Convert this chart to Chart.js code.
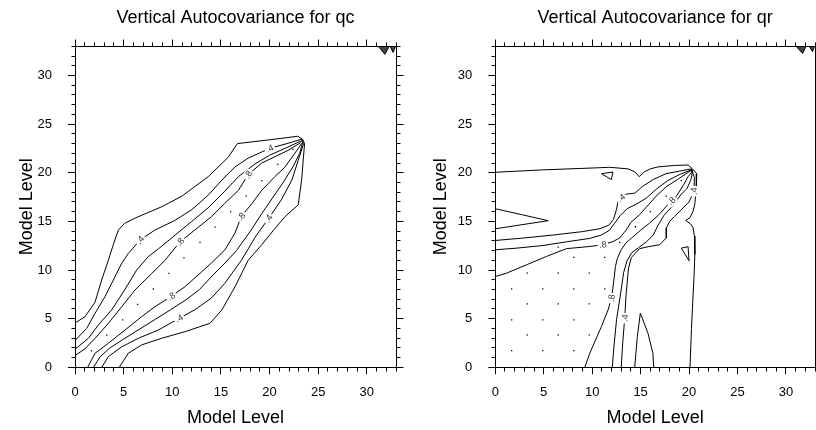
<!DOCTYPE html>
<html>
<head>
<meta charset="utf-8">
<script src="https://cdn.jsdelivr.net/npm/chart.js@4.4.1/dist/chart.umd.min.js"></script>
<style>
  html, body { margin: 0; padding: 0; background: #fff; }
  #wrap { position: relative; width: 816px; height: 430px; overflow: hidden; }
  canvas { position: absolute; top: 0; }
</style>
</head>
<body>
<div id="wrap">
  <canvas id="qcChart" width="408" height="430" style="left:0"></canvas>
  <canvas id="qrChart" width="408" height="430" style="left:408px"></canvas>
</div>
<script>
const FONT = '"Liberation Sans", Arial, Helvetica, sans-serif';
const AXIS_MAX = 33;
const MAJOR_STEP = 5;

// ---- qc panel: contour lines (model level x, model level y) ----
const qcLine02 = [[0,4.55],[1.03,5.2],[2.06,6.7],[2.74,8.97],[3.43,11.0],[3.9,12.5],[4.45,14.1],[5.1,14.8],[6.2,15.35],[8.9,16.5],[11.0,17.6],[13.7,19.6],[15.75,21.6],[16.7,23.0],[19.7,23.35],[22.9,23.75],[23.4,23.45],[23.6,23.0],[23.3,19.3],[22.95,16.7],[21.6,15.5],[20.5,14.2],[19.2,12.6],[17.8,11.0],[16.45,8.28],[15.1,5.9],[13.87,4.52],[11.3,3.66],[8.9,2.98],[6.85,2.3],[5.48,1.44],[4.55,0]];
const qcLine04 = [[0,2.75],[1.2,4.0],[2.06,5.55],[3.08,7.26],[3.94,8.97],[4.8,10.7],[5.48,11.7],[6.7,13.1],[8.2,14.1],[10.27,15.1],[12.0,16.2],[13.7,17.7],[15.1,19.25],[16.45,20.6],[17.8,21.5],[20.0,22.5],[21.8,23.0],[23.3,23.45],[23.5,23.0],[22.95,21.3],[22.3,19.25],[21.2,17.2],[19.9,15.3],[18.6,13.5],[17.1,11.0],[15.4,8.63],[14.0,7.1],[12.3,5.9],[10.7,5.03],[8.56,3.83],[6.5,2.98],[4.8,2.1],[3.43,1.1],[2.75,0]];
const qcLine06 = [[0,1.85],[1.37,2.98],[2.4,4.35],[3.77,5.9],[5.1,7.95],[6.34,10.0],[7.53,11.37],[8.6,12.2],[10.3,13.6],[12.0,15.0],[13.7,16.4],[15.4,18.1],[16.8,19.6],[18.5,20.9],[20.0,21.8],[21.8,22.6],[23.3,23.3],[23.4,23.1],[23.1,22.0],[22.4,20.6],[21.4,19.0],[20.3,17.4],[19.2,15.8],[18.1,14.1],[16.6,12.0],[15.5,10.8],[14.2,9.5],[12.8,8.0],[11.5,7.0],[9.8,5.9],[8.2,4.9],[6.6,3.9],[5.0,2.9],[3.6,2.0],[2.6,1.1],[1.9,0]];
const qcLine08 = [[0,1.2],[1.03,1.9],[2.06,2.98],[3.43,4.52],[4.8,6.23],[6.17,7.95],[7.9,9.66],[9.25,11.0],[10.8,12.9],[12.3,14.1],[14.05,15.5],[15.4,16.85],[16.8,18.2],[17.8,19.8],[19.2,21.0],[20.55,21.65],[21.9,22.3],[23.2,23.1],[23.3,23.0],[22.6,22.0],[21.6,20.6],[20.55,19.6],[19.2,18.2],[18.2,16.85],[17.1,15.5],[16.45,13.8],[15.4,12.06],[14.0,10.7],[13.0,9.8],[11.3,8.28],[9.9,7.3],[8.22,6.23],[6.85,5.2],[5.14,3.83],[3.43,2.47],[2.06,1.44],[1.3,0]];
const qcDots = [[0,0],[1.7,1.7],[3.26,3.3],[4.9,4.88],[6.44,6.47],[8.05,8.05],[9.66,9.66],[11.2,11.26],[12.85,12.85],[14.4,14.4],[16.0,16.0],[17.6,17.6],[19.2,19.2],[20.85,20.85],[22.4,22.4]];
const qcCorner = [[[31.17,33],[32.3,33],[31.86,32.17],[31.17,33]], [[32.4,33],[32.95,33],[32.7,32.37],[32.4,33]]];
const qcLabels = [
  { text: '.4', line: 1, at: [6.7, 13.1] },
  { text: '.8', line: 3, at: [10.8, 12.9] },
  { text: '.4', line: 1, at: [20.0, 22.5] },
  { text: '.8', line: 3, at: [17.8, 19.8] },
  { text: '.8', line: 3, at: [9.9, 7.3] },
  { text: '.4', line: 1, at: [10.7, 5.03] },
  { text: '.8', line: 3, at: [17.1, 15.5] },
  { text: '.4', line: 1, at: [19.9, 15.3] }
];

// ---- qr panel ----
const qrOuter = [[0,20.05],[5,20.3],[10.3,20.5],[11.8,20.56],[13.7,20.4],[14.4,20.1],[14.85,19.6],[15.4,20.1],[16.0,20.4],[16.8,20.6],[18.5,20.75],[19.9,20.8],[20.3,20.45],[20.8,19.9],[20.75,18.5],[20.6,16.8],[20.4,16.0],[20.1,15.4],[19.65,15.1],[20.1,14.8],[20.4,14.4],[20.55,13.5],[20.6,11.6],[20.5,9.0],[20.4,7.1],[20.25,4.0],[20.1,0]];
const qrLine04 = [[0,13.04],[3,13.3],[6,13.6],[9,13.95],[10.8,14.25],[11.7,14.6],[12.2,15.2],[12.5,16.2],[12.7,17.2],[13.5,17.8],[14.4,17.9],[15.2,18.6],[16.3,19.3],[17.6,19.9],[19.2,20.2],[20.25,20.4],[20.55,19.5],[20.5,18.1],[20.0,17.0],[19.2,16.2],[18.5,15.5],[18.0,15.0],[17.65,14.3],[17.65,13.3],[16.96,12.6],[15.8,12.4],[14.9,12.2],[14.05,11.3],[13.75,10.2],[13.5,7.5],[13.36,5.05],[13.15,2.5],[13.0,0]];
const qrLine06 = [[0,12.08],[2.2,12.25],[4.94,12.52],[7.35,12.9],[9.75,13.25],[10.96,13.6],[11.8,14.1],[12.3,14.8],[12.9,15.6],[13.6,16.3],[14.6,16.8],[15.6,17.4],[16.6,18.3],[17.8,19.2],[19.1,19.85],[20.25,20.3],[20.35,20.1],[20.2,19.3],[19.8,18.4],[19.2,17.8],[18.3,16.6],[17.4,15.6],[16.8,14.6],[16.3,13.6],[15.6,12.9],[14.8,12.3],[14.1,11.8],[13.6,10.96],[13.25,9.75],[12.9,7.35],[12.52,4.94],[12.25,2.2],[12.08,0]];
const qrLine08 = [[0,9.33],[1.17,9.68],[3.23,10.54],[5.29,11.4],[7.35,12.2],[9.75,12.42],[11.1,12.6],[12.15,12.93],[12.84,13.3],[13.5,14.1],[14.0,14.9],[14.9,15.7],[15.8,16.7],[16.7,17.7],[17.7,18.6],[18.8,19.3],[19.7,19.9],[20.3,20.3],[20.3,20.1],[19.9,19.6],[19.4,18.7],[18.7,17.6],[17.7,16.6],[16.8,15.6],[15.9,14.8],[15.0,14.1],[14.2,13.4],[13.5,12.8],[13.0,12.1],[12.6,11.2],[12.4,10.36],[12.2,8.65],[12.0,7.1],[11.64,5.9],[10.96,4.2],[9.75,1.44],[9.24,0]];
const qrWedge = [[0,16.3],[2.7,15.7],[5.46,15.07],[3.4,14.76],[0,14.24]];
const qrSpike = [[14.39,0],[14.66,3.15],[14.97,5.56],[15.76,3.5],[16.27,1.44],[16.35,0]];
const qrTriUpper = [[10.96,19.9],[12.15,20.08],[11.98,19.3],[10.96,19.9]];
const qrTriLower = [[19.2,12.25],[19.9,12.4],[20.0,10.95],[19.2,12.25]];
const qrDots = [[0,0],[3.3,0],[6.5,0],[1.69,1.71],[4.9,1.71],[8.1,1.71],[0,3.33],[3.3,3.33],[6.5,3.33],[9.7,3.33],[1.69,4.87],[4.9,4.87],[8.1,4.87],[0,6.52],[3.3,6.52],[6.5,6.52],[9.7,6.52],[1.69,8.06],[4.9,8.06],[8.1,8.06],[11.3,8.06],[3.3,9.68],[6.5,9.68],[9.7,9.68],[8.1,11.3],[11.3,11.3],[6.5,12.35],[12.84,12.84],[14.46,14.45],[16.0,16.0],[17.65,17.6],[19.2,19.2]];
const qrCorner = [[[31.04,33],[32.07,33],[31.72,32.27],[31.04,33]], [[32.4,33],[32.93,33],[32.75,32.45],[32.4,33]]];
const qrLabels = [
  { text: '.4', line: 0, at: [13.0, 17.42] },
  { text: '.8', line: 2, at: [11.1, 12.6] },
  { text: '.8', line: 2, at: [12.0, 7.1] },
  { text: '.4', line: 0, at: [13.36, 5.05] },
  { text: '.8', line: 2, at: [18.2, 17.1] },
  { text: '.4', line: 0, at: [20.5, 18.1] }
];

function toPoints(arr) { return arr.map(p => ({ x: p[0], y: p[1] })); }

function lineSet(arr) {
  return { data: toPoints(arr), showLine: true, borderColor: '#000', borderWidth: 1,
           pointRadius: 0, pointHoverRadius: 0, tension: 0, fill: false };
}

function shapeSet(arr, fillColor) {
  return { data: toPoints(arr), showLine: true, borderColor: '#000', borderWidth: 1,
           pointRadius: 0, pointHoverRadius: 0, tension: 0,
           fill: fillColor ? 'shape' : false, backgroundColor: fillColor || 'transparent' };
}

function dotSet(arr) {
  return { data: toPoints(arr), showLine: false, pointRadius: 0.9, pointHoverRadius: 0.9,
           pointStyle: 'rect', backgroundColor: '#000', borderWidth: 0 };
}

function align(v) { return Math.round(v - 0.5) + 0.5; }

const frameTicks = {
  id: 'frameTicks',
  afterDraw(chart) {
    const { ctx, chartArea: a, scales: { x, y } } = chart;
    const L = align(a.left), R = align(a.right), T = align(a.top), B = align(a.bottom);
    ctx.save();
    ctx.strokeStyle = '#000';
    ctx.lineWidth = 1;
    ctx.beginPath();
    ctx.moveTo(L, T); ctx.lineTo(R, T); ctx.lineTo(R, B);
    for (let v = 0; v <= AXIS_MAX; v++) {
      const major = v % MAJOR_STEP === 0;
      const len = major ? 7 : 4;
      const px = align(x.getPixelForValue(v));
      const py = align(y.getPixelForValue(v));
      ctx.moveTo(px, T); ctx.lineTo(px, T - len);
      ctx.moveTo(R, py); ctx.lineTo(R + len, py);
      if (!major) {
        ctx.moveTo(px, B); ctx.lineTo(px, B + 4);
        ctx.moveTo(L, py); ctx.lineTo(L - 4, py);
      }
    }
    ctx.stroke();
    ctx.restore();
  }
};

function segDist(px, py, ax, ay, bx, by) {
  const dx = bx - ax, dy = by - ay;
  const len2 = dx * dx + dy * dy || 1;
  let t = ((px - ax) * dx + (py - ay) * dy) / len2;
  t = Math.max(0, Math.min(1, t));
  const cx = ax + t * dx, cy = ay + t * dy;
  return Math.hypot(px - cx, py - cy);
}

function labelPlugin(items, lines) {
  return {
    id: 'contourLabels',
    afterDatasetsDraw(chart) {
      const { ctx, scales: { x, y } } = chart;
      ctx.save();
      ctx.font = '9px ' + FONT;
      ctx.textAlign = 'center';
      ctx.textBaseline = 'middle';
      items.forEach(item => {
        const px = x.getPixelForValue(item.at[0]);
        const py = y.getPixelForValue(item.at[1]);
        const pts = lines[item.line];
        let best = Infinity, ang = 0;
        for (let i = 0; i < pts.length - 1; i++) {
          const ax = x.getPixelForValue(pts[i][0]), ay = y.getPixelForValue(pts[i][1]);
          const bx = x.getPixelForValue(pts[i + 1][0]), by = y.getPixelForValue(pts[i + 1][1]);
          const d = segDist(px, py, ax, ay, bx, by);
          if (d < best) { best = d; ang = Math.atan2(by - ay, bx - ax); }
        }
        if (ang > Math.PI / 2) ang -= Math.PI;
        if (ang < -Math.PI / 2) ang += Math.PI;
        ctx.save();
        ctx.translate(px, py);
        ctx.rotate(ang);
        const w = ctx.measureText(item.text).width + 3;
        ctx.fillStyle = '#fff';
        ctx.fillRect(-w / 2, -4.5, w, 9);
        ctx.fillStyle = '#333';
        ctx.fillText(item.text, 0, 0.5);
        ctx.restore();
      });
      ctx.restore();
    }
  };
}

function makePanel(canvasId, titleText, datasets, labelItems, labelLines, opts) {
  const tickFont = { family: FONT, size: 13 };
  const titleFont = { family: FONT, size: 18, lineHeight: 1.2, weight: 'normal' };
  return new Chart(document.getElementById(canvasId), {
    type: 'scatter',
    data: { datasets },
    options: {
      responsive: false,
      animation: false,
      events: [],
      layout: { padding: { left: 0, right: opts.padRight, top: 0, bottom: 0 } },
      plugins: {
        legend: { display: false },
        tooltip: { enabled: false },
        title: {
          display: true, text: titleText, fullSize: false, color: '#000',
          font: titleFont, padding: { top: 7, bottom: 17.7 }
        }
      },
      scales: {
        x: {
          type: 'linear', min: 0, max: AXIS_MAX,
          ticks: { stepSize: MAJOR_STEP, includeBounds: false, padding: 10, color: '#000', font: tickFont, maxRotation: 0, autoSkip: false },
          grid: { display: true, drawOnChartArea: false, drawTicks: true, tickLength: 7, color: '#000' },
          border: { display: true, color: '#000', width: 1 },
          title: { display: true, text: 'Model Level', color: '#000', font: titleFont, padding: { top: 0, bottom: 1 } },
          afterFit(s) { s.height = 62.7; }
        },
        y: {
          type: 'linear', min: 0, max: AXIS_MAX,
          ticks: { stepSize: MAJOR_STEP, includeBounds: false, padding: 16, color: '#000', font: tickFont, autoSkip: false },
          grid: { display: true, drawOnChartArea: false, drawTicks: true, tickLength: 7, color: '#000' },
          border: { display: true, color: '#000', width: 1 },
          title: { display: true, text: 'Model Level', color: '#000', font: titleFont, padding: { top: opts.yTitlePad, bottom: 0 } },
          afterFit(s) { s.width = opts.yWidth; }
        }
      }
    },
    plugins: [frameTicks, labelPlugin(labelItems, labelLines)]
  });
}

const qcLines = [qcLine02, qcLine04, qcLine06, qcLine08];
makePanel('qcChart', 'Vertical Autocovariance for qc',
  [...qcLines.map(lineSet), dotSet(qcDots), ...qcCorner.map(t => shapeSet(t, '#444'))],
  qcLabels, qcLines, { padRight: 12, yWidth: 75, yTitlePad: 16.7 });

const qrLines = [qrLine04, qrLine06, qrLine08];
makePanel('qrChart', 'Vertical Autocovariance for qr',
  [lineSet(qrOuter), ...qrLines.map(lineSet), lineSet(qrWedge), lineSet(qrSpike),
   shapeSet(qrTriUpper), shapeSet(qrTriLower), dotSet(qrDots), ...qrCorner.map(t => shapeSet(t, '#444'))],
  qrLabels, qrLines, { padRight: 1, yWidth: 87.3, yTitlePad: 22.4 });
</script>
</body>
</html>
